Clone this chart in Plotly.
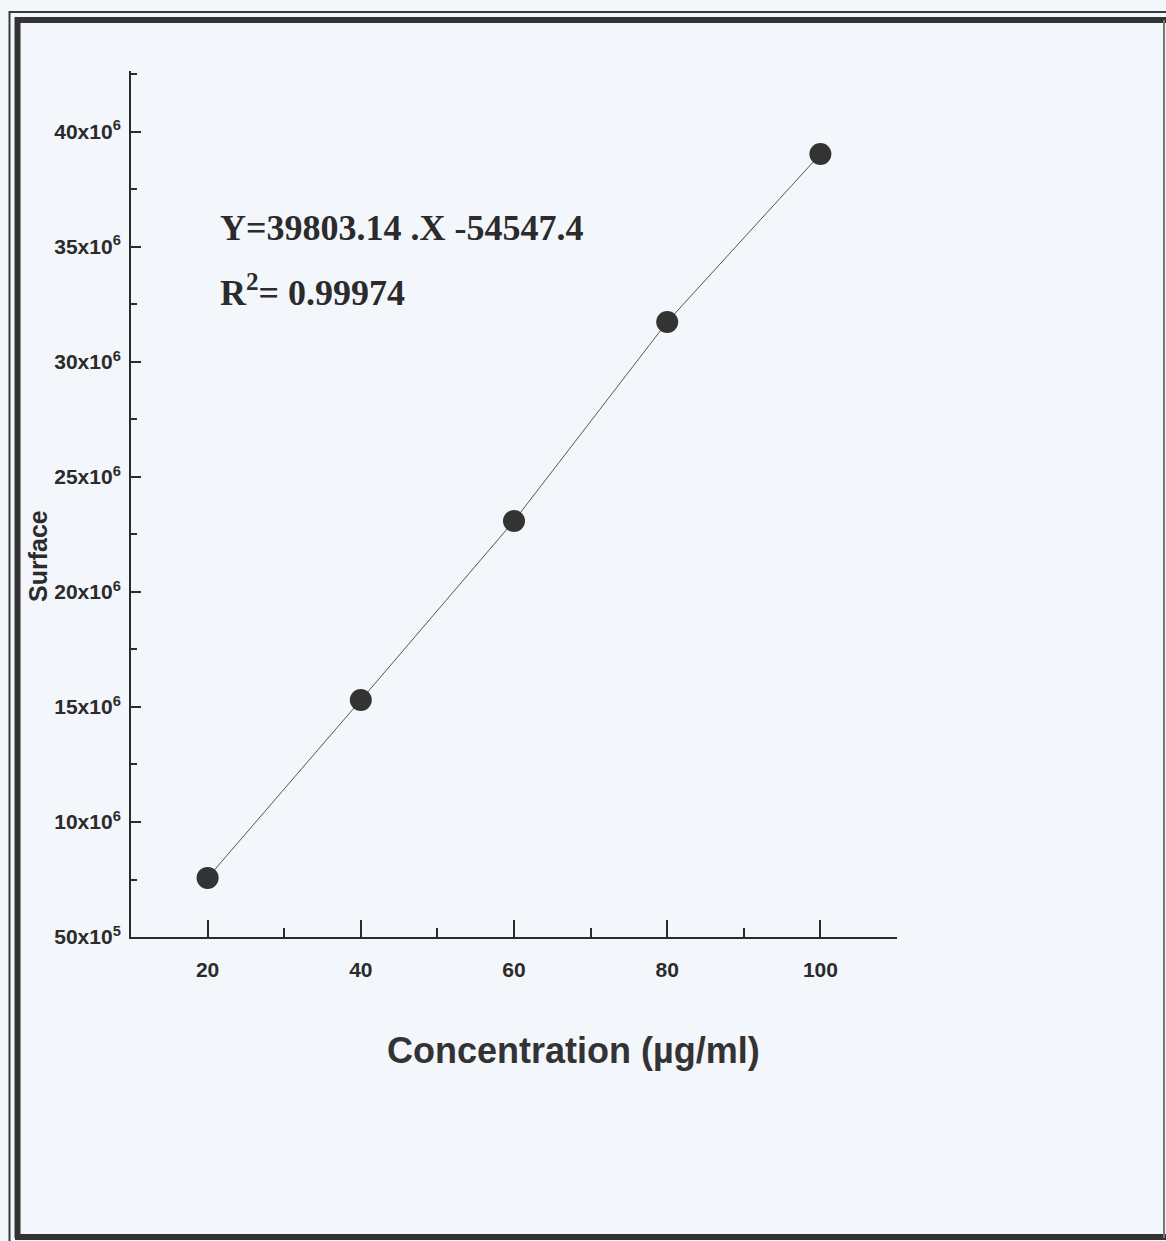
import plotly.graph_objects as go

# Data
concentration = [20, 40, 60, 80, 100]
surface = [7.57e6, 15.30e6, 23.09e6, 31.74e6, 39.04e6]

y_tickvals = [5e6, 10e6, 15e6, 20e6, 25e6, 30e6, 35e6, 40e6]
y_ticktext = ["50x10<sup>5</sup>", "10x10<sup>6</sup>", "15x10<sup>6</sup>", "20x10<sup>6</sup>",
              "25x10<sup>6</sup>", "30x10<sup>6</sup>", "35x10<sup>6</sup>", "40x10<sup>6</sup>"]
x_tickvals = [20, 40, 60, 80, 100]
x_ticktext = ["20", "40", "60", "80", "100"]

equation_text = "Y=39803.14 .X -54547.4"
r2_text = "R<sup>2</sup>= 0.99974"
x_title = "Concentration (µg/ml)"
y_title = "Surface"

W, H = 1166, 1241
BG = "#f3f6fb"
INK = "#2b2b2b"

def px(x):
    return x / W

def py(y):
    return 1 - y / H

fig = go.Figure()
fig.add_trace(go.Scatter(
    x=concentration, y=surface, mode="lines+markers",
    line=dict(color="#555555", width=1),
    marker=dict(color="#333333", size=22, line=dict(width=0)),
    showlegend=False, hoverinfo="x+y",
))

tickfont = dict(family="Liberation Sans, Arial", size=21, color=INK, weight="bold")

fig.update_layout(
    width=W, height=H,
    margin=dict(l=0, r=0, t=0, b=0),
    paper_bgcolor=BG, plot_bgcolor=BG,
    xaxis=dict(
        domain=[px(131), px(897)],
        range=[10, 110],
        automargin=False,
        tickmode="array", tickvals=x_tickvals, ticktext=x_ticktext,
        ticks="inside", ticklen=17, tickwidth=1.5, tickcolor=INK,
        minor=dict(ticks="inside", ticklen=9, tickwidth=1.5, tickcolor=INK,
                   tick0=10, dtick=10),
        showline=True, linecolor=INK, linewidth=2,
        showgrid=False, zeroline=False,
        tickfont=tickfont, ticklabelstandoff=13,
        fixedrange=True,
    ),
    yaxis=dict(
        domain=[py(937), py(71)],
        range=[5e6, 42.65e6],
        automargin=False,
        tickmode="array", tickvals=y_tickvals, ticktext=y_ticktext,
        ticks="inside", ticklen=10, tickwidth=1.5, tickcolor=INK,
        minor=dict(ticks="inside", ticklen=6, tickwidth=1.5, tickcolor=INK,
                   tick0=0, dtick=2.5e6),
        showline=True, linecolor=INK, linewidth=2,
        showgrid=False, zeroline=False,
        tickfont=tickfont, ticklabelstandoff=4,
        fixedrange=True,
    ),
    annotations=[
        dict(text=equation_text, xref="paper", yref="paper", x=px(218), y=py(228),
             xanchor="left", yanchor="middle", showarrow=False,
             font=dict(family="Liberation Serif, Times New Roman", size=36, color=INK, weight="bold")),
        dict(text=r2_text, xref="paper", yref="paper", x=px(218), y=py(290),
             xanchor="left", yanchor="middle", showarrow=False,
             font=dict(family="Liberation Serif, Times New Roman", size=36, color=INK, weight="bold")),
        dict(text=x_title, xref="paper", yref="paper", x=px(573), y=py(1050),
             xanchor="center", yanchor="middle", showarrow=False,
             font=dict(family="Liberation Sans, Arial", size=36, color="#333333", weight="bold")),
        dict(text=y_title, xref="paper", yref="paper", x=px(38), y=py(556),
             xanchor="center", yanchor="middle", showarrow=False, textangle=-90,
             font=dict(family="Liberation Sans, Arial", size=25,
                       color=INK, weight="bold")),
    ],
    shapes=[
        # outer thin frame
        dict(type="line", xref="paper", yref="paper", x0=px(9.5), x1=px(9.5), y0=py(11), y1=py(1241),
             line=dict(color="#3a3a3a", width=2)),
        dict(type="line", xref="paper", yref="paper", x0=px(9.5), x1=1, y0=py(12), y1=py(12),
             line=dict(color="#3a3a3a", width=2)),
        # inner thick frame
        dict(type="line", xref="paper", yref="paper", x0=px(17.5), x1=px(17.5), y0=py(17), y1=py(1238),
             line=dict(color="#333333", width=6)),
        dict(type="line", xref="paper", yref="paper", x0=px(15), x1=1, y0=py(20), y1=py(20),
             line=dict(color="#333333", width=6)),
        dict(type="line", xref="paper", yref="paper", x0=px(15), x1=1, y0=py(1237), y1=py(1237),
             line=dict(color="#333333", width=6)),
        dict(type="line", xref="paper", yref="paper", x0=px(1164), x1=px(1164), y0=py(20), y1=py(1238),
             line=dict(color="#777777", width=2)),
    ],
)

fig.write_html("out.html")
